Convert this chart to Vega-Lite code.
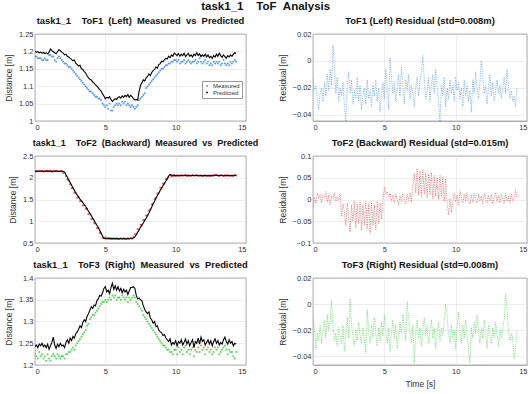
{
"$schema": "https://vega.github.io/schema/vega-lite/v6.json",
"background": "white",
"padding": {"left": 4, "top": 0, "right": 0, "bottom": 2},
"title": {"text": "task1_1\u00a0\u00a0\u00a0\u00a0ToF\u00a0\u00a0Analysis", "fontSize": 11.5, "fontWeight": "bold", "anchor": "middle", "frame": "bounds", "offset": 3, "color": "#111"},
"columns": 2,
"align": "each",
"spacing": {"row": 6, "column": 18},
"config": {
  "font": "Liberation Sans",
  "view": {"stroke": "#555", "strokeWidth": 0.7},
  "axis": {"labelFontSize": 7.5, "labelColor": "#333", "titleFontSize": 8.5, "titleFontWeight": "normal", "titleColor": "#333", "gridColor": "#e2e2e2", "gridWidth": 0.6, "domain": false, "ticks": false, "labelPadding": 2, "titlePadding": 5, "labelOverlap": false, "labelSeparation": -100},
  "axisY": {"labelOverlap": false, "labelSeparation": -100},
  "title": {"fontSize": 9.4, "fontWeight": "bold", "color": "#111", "offset": 0, "frame": "group"}
},
"datasets": {
"tof1": [
{"t":0.0,"m":1.185,"p":1.200,"r":-0.013},{"t":0.1,"m":1.185,"p":1.198,"r":-0.022},{"t":0.2,"m":1.18,"p":1.199,"r":-0.018},{"t":0.3,"m":1.18,"p":1.196,"r":-0.028},{"t":0.4,"m":1.18,"p":1.198,"r":-0.036},{"t":0.5,"m":1.175,"p":1.195,"r":-0.024},{"t":0.6,"m":1.175,"p":1.197,"r":-0.020},{"t":0.7,"m":1.18,"p":1.194,"r":-0.030},{"t":0.8,"m":1.175,"p":1.196,"r":-0.016},{"t":0.9,"m":1.175,"p":1.193,"r":-0.026},
{"t":1.0,"m":1.19,"p":1.198,"r":-0.010},{"t":1.1,"m":1.19,"p":1.207,"r":-0.022},{"t":1.2,"m":1.185,"p":1.202,"r":-0.006},{"t":1.3,"m":1.185,"p":1.199,"r":-0.018},{"t":1.4,"m":1.175,"p":1.196,"r":0.012},{"t":1.5,"m":1.17,"p":1.193,"r":-0.004},{"t":1.6,"m":1.18,"p":1.199,"r":-0.024},{"t":1.7,"m":1.185,"p":1.205,"r":-0.012},{"t":1.8,"m":1.18,"p":1.202,"r":-0.030},{"t":1.9,"m":1.175,"p":1.198,"r":-0.020},
{"t":2.0,"m":1.17,"p":1.195,"r":-0.026},{"t":2.1,"m":1.165,"p":1.190,"r":-0.016},{"t":2.2,"m":1.165,"p":1.192,"r":-0.034},{"t":2.3,"m":1.16,"p":1.186,"r":-0.045},{"t":2.4,"m":1.155,"p":1.184,"r":-0.020},{"t":2.5,"m":1.155,"p":1.180,"r":-0.008},{"t":2.6,"m":1.15,"p":1.177,"r":-0.024},{"t":2.7,"m":1.145,"p":1.173,"r":-0.014},{"t":2.8,"m":1.14,"p":1.175,"r":-0.032},{"t":2.9,"m":1.135,"p":1.166,"r":-0.022},
{"t":3.0,"m":1.13,"p":1.162,"r":-0.028},{"t":3.1,"m":1.125,"p":1.158,"r":-0.012},{"t":3.2,"m":1.12,"p":1.160,"r":-0.030},{"t":3.3,"m":1.115,"p":1.150,"r":-0.018},{"t":3.4,"m":1.11,"p":1.148,"r":-0.036},{"t":3.5,"m":1.105,"p":1.142,"r":-0.026},{"t":3.6,"m":1.10,"p":1.138,"r":-0.020},{"t":3.7,"m":1.095,"p":1.130,"r":-0.032},{"t":3.8,"m":1.09,"p":1.124,"r":-0.014},{"t":3.9,"m":1.085,"p":1.120,"r":-0.028},
{"t":4.0,"m":1.085,"p":1.118,"r":-0.022},{"t":4.1,"m":1.08,"p":1.112,"r":-0.034},{"t":4.2,"m":1.075,"p":1.109,"r":-0.018},{"t":4.3,"m":1.07,"p":1.104,"r":-0.026},{"t":4.4,"m":1.07,"p":1.100,"r":-0.014},{"t":4.5,"m":1.065,"p":1.095,"r":-0.030},{"t":4.6,"m":1.065,"p":1.090,"r":-0.020},{"t":4.7,"m":1.06,"p":1.086,"r":-0.038},{"t":4.8,"m":1.05,"p":1.078,"r":-0.024},{"t":4.9,"m":1.045,"p":1.072,"r":-0.016},
{"t":5.0,"m":1.04,"p":1.064,"r":-0.028},{"t":5.1,"m":1.045,"p":1.068,"r":-0.006},{"t":5.2,"m":1.035,"p":1.066,"r":-0.020},{"t":5.3,"m":1.05,"p":1.070,"r":-0.036},{"t":5.4,"m":1.03,"p":1.062,"r":0.002},{"t":5.5,"m":1.03,"p":1.056,"r":-0.012},{"t":5.6,"m":1.04,"p":1.060,"r":-0.024},{"t":5.7,"m":1.045,"p":1.064,"r":-0.016},{"t":5.8,"m":1.05,"p":1.062,"r":-0.030},{"t":5.9,"m":1.045,"p":1.068,"r":-0.020},
{"t":6.0,"m":1.05,"p":1.070,"r":-0.010},{"t":6.1,"m":1.045,"p":1.066,"r":-0.026},{"t":6.2,"m":1.055,"p":1.072,"r":-0.004},{"t":6.3,"m":1.05,"p":1.068,"r":-0.018},{"t":6.4,"m":1.055,"p":1.074,"r":-0.032},{"t":6.5,"m":1.045,"p":1.070,"r":-0.014},{"t":6.6,"m":1.05,"p":1.076,"r":-0.022},{"t":6.7,"m":1.045,"p":1.068,"r":-0.010},{"t":6.8,"m":1.04,"p":1.074,"r":-0.028},{"t":6.9,"m":1.045,"p":1.070,"r":-0.018},
{"t":7.0,"m":1.04,"p":1.064,"r":-0.024},{"t":7.1,"m":1.035,"p":1.060,"r":-0.034},{"t":7.2,"m":1.04,"p":1.062,"r":-0.020},{"t":7.3,"m":1.045,"p":1.060,"r":-0.012},{"t":7.4,"m":1.06,"p":1.085,"r":-0.026},{"t":7.5,"m":1.065,"p":1.102,"r":-0.016},{"t":7.6,"m":1.07,"p":1.110,"r":-0.008},{"t":7.7,"m":1.075,"p":1.118,"r":0.004},{"t":7.8,"m":1.08,"p":1.115,"r":-0.014},{"t":7.9,"m":1.095,"p":1.124,"r":-0.028},
{"t":8.0,"m":1.10,"p":1.128,"r":-0.022},{"t":8.1,"m":1.105,"p":1.135,"r":-0.012},{"t":8.2,"m":1.11,"p":1.130,"r":-0.030},{"t":8.3,"m":1.115,"p":1.140,"r":-0.018},{"t":8.4,"m":1.12,"p":1.145,"r":-0.010},{"t":8.5,"m":1.125,"p":1.148,"r":-0.024},{"t":8.6,"m":1.13,"p":1.155,"r":-0.006},{"t":8.7,"m":1.135,"p":1.152,"r":-0.020},{"t":8.8,"m":1.14,"p":1.162,"r":-0.030},{"t":8.9,"m":1.145,"p":1.165,"r":-0.045},
{"t":9.0,"m":1.15,"p":1.172,"r":-0.018},{"t":9.1,"m":1.15,"p":1.170,"r":-0.026},{"t":9.2,"m":1.155,"p":1.176,"r":-0.012},{"t":9.3,"m":1.16,"p":1.180,"r":-0.034},{"t":9.4,"m":1.16,"p":1.178,"r":-0.020},{"t":9.5,"m":1.165,"p":1.186,"r":-0.028},{"t":9.6,"m":1.165,"p":1.182,"r":-0.014},{"t":9.7,"m":1.17,"p":1.190,"r":-0.024},{"t":9.8,"m":1.17,"p":1.186,"r":-0.018},{"t":9.9,"m":1.175,"p":1.195,"r":-0.030},
{"t":10.0,"m":1.175,"p":1.192,"r":-0.012},{"t":10.1,"m":1.17,"p":1.188,"r":-0.022},{"t":10.2,"m":1.175,"p":1.194,"r":-0.016},{"t":10.3,"m":1.165,"p":1.186,"r":-0.028},{"t":10.4,"m":1.17,"p":1.192,"r":-0.020},{"t":10.5,"m":1.17,"p":1.188,"r":-0.034},{"t":10.6,"m":1.175,"p":1.195,"r":-0.014},{"t":10.7,"m":1.165,"p":1.185,"r":-0.026},{"t":10.8,"m":1.17,"p":1.190,"r":-0.018},{"t":10.9,"m":1.175,"p":1.194,"r":-0.030},
{"t":11.0,"m":1.17,"p":1.186,"r":-0.022},{"t":11.1,"m":1.165,"p":1.190,"r":-0.038},{"t":11.2,"m":1.17,"p":1.184,"r":-0.014},{"t":11.3,"m":1.17,"p":1.192,"r":-0.024},{"t":11.4,"m":1.175,"p":1.188,"r":-0.008},{"t":11.5,"m":1.165,"p":1.196,"r":-0.020},{"t":11.6,"m":1.17,"p":1.188,"r":-0.028},{"t":11.7,"m":1.18,"p":1.193,"r":-0.016},{"t":11.8,"m":1.17,"p":1.185,"r":0.000},{"t":11.9,"m":1.165,"p":1.190,"r":-0.012},
{"t":12.0,"m":1.17,"p":1.186,"r":-0.024},{"t":12.1,"m":1.175,"p":1.192,"r":-0.018},{"t":12.2,"m":1.165,"p":1.184,"r":-0.032},{"t":12.3,"m":1.17,"p":1.190,"r":-0.020},{"t":12.4,"m":1.16,"p":1.182,"r":-0.010},{"t":12.5,"m":1.165,"p":1.186,"r":-0.026},{"t":12.6,"m":1.16,"p":1.180,"r":-0.016},{"t":12.7,"m":1.17,"p":1.188,"r":-0.030},{"t":12.8,"m":1.165,"p":1.184,"r":-0.022},{"t":12.9,"m":1.17,"p":1.192,"r":-0.014},
{"t":13.0,"m":1.165,"p":1.186,"r":-0.024},{"t":13.1,"m":1.17,"p":1.195,"r":-0.018},{"t":13.2,"m":1.16,"p":1.188,"r":-0.028},{"t":13.3,"m":1.165,"p":1.183,"r":-0.020},{"t":13.4,"m":1.175,"p":1.190,"r":-0.012},{"t":13.5,"m":1.165,"p":1.185,"r":-0.024},{"t":13.6,"m":1.16,"p":1.180,"r":-0.006},{"t":13.7,"m":1.165,"p":1.188,"r":-0.018},{"t":13.8,"m":1.16,"p":1.184,"r":-0.028},{"t":13.9,"m":1.17,"p":1.190,"r":-0.022},
{"t":14.0,"m":1.165,"p":1.186,"r":-0.030},{"t":14.1,"m":1.17,"p":1.192,"r":-0.026},{"t":14.2,"m":1.175,"p":1.196,"r":-0.034},{"t":14.3,"m":1.17,"p":1.194,"r":-0.020}
],
"tof2": [
{"t":0.0,"m":2.14,"p":2.150,"r":-0.020},{"t":0.1,"m":2.15,"p":2.152,"r":0.005},{"t":0.2,"m":2.15,"p":2.148,"r":-0.010},{"t":0.3,"m":2.16,"p":2.151,"r":0.015},{"t":0.4,"m":2.15,"p":2.149,"r":0.002},{"t":0.5,"m":2.16,"p":2.153,"r":0.012},{"t":0.6,"m":2.14,"p":2.150,"r":-0.008},{"t":0.7,"m":2.16,"p":2.148,"r":0.010},{"t":0.8,"m":2.15,"p":2.152,"r":0.004},{"t":0.9,"m":2.16,"p":2.155,"r":0.018},
{"t":1.0,"m":2.15,"p":2.150,"r":-0.006},{"t":1.1,"m":2.16,"p":2.153,"r":0.010},{"t":1.2,"m":2.14,"p":2.147,"r":-0.012},{"t":1.3,"m":2.16,"p":2.151,"r":0.008},{"t":1.4,"m":2.15,"p":2.149,"r":0.002},{"t":1.5,"m":2.16,"p":2.152,"r":0.016},{"t":1.6,"m":2.15,"p":2.150,"r":-0.004},{"t":1.7,"m":2.15,"p":2.148,"r":0.006},{"t":1.8,"m":2.15,"p":2.151,"r":-0.002},{"t":1.9,"m":2.16,"p":2.150,"r":0.014},
{"t":2.0,"m":2.11,"p":2.145,"r":-0.040},{"t":2.1,"m":2.12,"p":2.130,"r":-0.010},{"t":2.2,"m":2.04,"p":2.070,"r":-0.030},{"t":2.3,"m":1.96,"p":2.010,"r":-0.060},{"t":2.4,"m":1.94,"p":1.950,"r":-0.008},{"t":2.5,"m":1.85,"p":1.890,"r":-0.045},{"t":2.6,"m":1.76,"p":1.830,"r":-0.075},{"t":2.7,"m":1.76,"p":1.770,"r":-0.012},{"t":2.8,"m":1.66,"p":1.710,"r":-0.050},{"t":2.9,"m":1.65,"p":1.650,"r":-0.004},
{"t":3.0,"m":1.54,"p":1.600,"r":-0.065},{"t":3.1,"m":1.55,"p":1.560,"r":-0.010},{"t":3.2,"m":1.46,"p":1.510,"r":-0.055},{"t":3.3,"m":1.46,"p":1.470,"r":-0.006},{"t":3.4,"m":1.36,"p":1.430,"r":-0.070},{"t":3.5,"m":1.37,"p":1.380,"r":-0.012},{"t":3.6,"m":1.28,"p":1.340,"r":-0.060},{"t":3.7,"m":1.29,"p":1.290,"r":-0.004},{"t":3.8,"m":1.16,"p":1.230,"r":-0.068},{"t":3.9,"m":1.17,"p":1.180,"r":-0.010},
{"t":4.0,"m":1.05,"p":1.130,"r":-0.078},{"t":4.1,"m":1.06,"p":1.070,"r":-0.006},{"t":4.2,"m":0.96,"p":1.020,"r":-0.060},{"t":4.3,"m":0.95,"p":0.960,"r":-0.012},{"t":4.4,"m":0.84,"p":0.910,"r":-0.070},{"t":4.5,"m":0.85,"p":0.850,"r":-0.004},{"t":4.6,"m":0.73,"p":0.790,"r":-0.056},{"t":4.7,"m":0.72,"p":0.730,"r":-0.008},{"t":4.8,"m":0.62,"p":0.660,"r":-0.045},{"t":4.9,"m":0.61,"p":0.610,"r":0.000},
{"t":5.0,"m":0.63,"p":0.600,"r":0.028},{"t":5.1,"m":0.61,"p":0.598,"r":0.012},{"t":5.2,"m":0.62,"p":0.602,"r":0.018},{"t":5.3,"m":0.61,"p":0.600,"r":0.006},{"t":5.4,"m":0.61,"p":0.596,"r":0.014},{"t":5.5,"m":0.60,"p":0.600,"r":-0.004},{"t":5.6,"m":0.61,"p":0.603,"r":0.010},{"t":5.7,"m":0.59,"p":0.598,"r":-0.008},{"t":5.8,"m":0.61,"p":0.600,"r":0.012},{"t":5.9,"m":0.60,"p":0.595,"r":0.002},
{"t":6.0,"m":0.59,"p":0.598,"r":-0.012},{"t":6.1,"m":0.61,"p":0.601,"r":0.008},{"t":6.2,"m":0.59,"p":0.597,"r":-0.004},{"t":6.3,"m":0.61,"p":0.600,"r":0.014},{"t":6.4,"m":0.60,"p":0.596,"r":0.000},{"t":6.5,"m":0.59,"p":0.599,"r":-0.010},{"t":6.6,"m":0.61,"p":0.602,"r":0.012},{"t":6.7,"m":0.60,"p":0.598,"r":-0.002},{"t":6.8,"m":0.62,"p":0.603,"r":0.016},{"t":6.9,"m":0.60,"p":0.605,"r":-0.006},
{"t":7.0,"m":0.64,"p":0.615,"r":0.028},{"t":7.1,"m":0.70,"p":0.640,"r":0.060},{"t":7.2,"m":0.70,"p":0.690,"r":0.015},{"t":7.3,"m":0.82,"p":0.750,"r":0.072},{"t":7.4,"m":0.81,"p":0.800,"r":0.010},{"t":7.5,"m":0.92,"p":0.860,"r":0.065},{"t":7.6,"m":0.92,"p":0.910,"r":0.005},{"t":7.7,"m":1.03,"p":0.960,"r":0.068},{"t":7.8,"m":1.03,"p":1.020,"r":0.012},{"t":7.9,"m":1.13,"p":1.070,"r":0.060},
{"t":8.0,"m":1.13,"p":1.130,"r":0.004},{"t":8.1,"m":1.25,"p":1.190,"r":0.058},{"t":8.2,"m":1.27,"p":1.260,"r":0.010},{"t":8.3,"m":1.39,"p":1.330,"r":0.062},{"t":8.4,"m":1.40,"p":1.400,"r":0.002},{"t":8.5,"m":1.51,"p":1.460,"r":0.055},{"t":8.6,"m":1.54,"p":1.530,"r":0.008},{"t":8.7,"m":1.64,"p":1.590,"r":0.050},{"t":8.8,"m":1.65,"p":1.650,"r":0.000},{"t":8.9,"m":1.77,"p":1.710,"r":0.056},
{"t":9.0,"m":1.77,"p":1.760,"r":0.006},{"t":9.1,"m":1.87,"p":1.820,"r":0.052},{"t":9.2,"m":1.87,"p":1.870,"r":-0.004},{"t":9.3,"m":1.97,"p":1.920,"r":0.048},{"t":9.4,"m":1.97,"p":1.980,"r":-0.010},{"t":9.5,"m":2.01,"p":2.040,"r":-0.035},{"t":9.6,"m":2.07,"p":2.070,"r":0.002},{"t":9.7,"m":2.03,"p":2.060,"r":-0.030},{"t":9.8,"m":2.04,"p":2.050,"r":-0.008},{"t":9.9,"m":2.07,"p":2.055,"r":0.014},
{"t":10.0,"m":2.04,"p":2.048,"r":-0.006},{"t":10.1,"m":2.06,"p":2.052,"r":0.010},{"t":10.2,"m":2.05,"p":2.045,"r":-0.012},{"t":10.3,"m":2.04,"p":2.050,"r":0.020},{"t":10.4,"m":2.06,"p":2.054,"r":0.002},{"t":10.5,"m":2.05,"p":2.047,"r":-0.008},{"t":10.6,"m":2.05,"p":2.051,"r":0.012},{"t":10.7,"m":2.07,"p":2.055,"r":-0.004},{"t":10.8,"m":2.04,"p":2.049,"r":0.016},{"t":10.9,"m":2.06,"p":2.052,"r":0.000},
{"t":11.0,"m":2.05,"p":2.046,"r":-0.010},{"t":11.1,"m":2.04,"p":2.050,"r":0.010},{"t":11.2,"m":2.06,"p":2.054,"r":-0.006},{"t":11.3,"m":2.05,"p":2.048,"r":0.014},{"t":11.4,"m":2.05,"p":2.052,"r":0.002},{"t":11.5,"m":2.06,"p":2.058,"r":-0.008},{"t":11.6,"m":2.04,"p":2.050,"r":0.012},{"t":11.7,"m":2.05,"p":2.046,"r":-0.004},{"t":11.8,"m":2.06,"p":2.050,"r":0.008},{"t":11.9,"m":2.04,"p":2.044,"r":-0.010},
{"t":12.0,"m":2.05,"p":2.048,"r":0.014},{"t":12.1,"m":2.06,"p":2.052,"r":0.000},{"t":12.2,"m":2.04,"p":2.046,"r":-0.008},{"t":12.3,"m":2.05,"p":2.050,"r":0.010},{"t":12.4,"m":2.05,"p":2.044,"r":-0.004},{"t":12.5,"m":2.04,"p":2.048,"r":0.012},{"t":12.6,"m":2.06,"p":2.052,"r":-0.010},{"t":12.7,"m":2.05,"p":2.046,"r":0.006},{"t":12.8,"m":2.07,"p":2.056,"r":0.016},{"t":12.9,"m":2.06,"p":2.060,"r":-0.006},
{"t":13.0,"m":2.05,"p":2.052,"r":0.010},{"t":13.1,"m":2.04,"p":2.048,"r":-0.008},{"t":13.2,"m":2.06,"p":2.054,"r":0.012},{"t":13.3,"m":2.05,"p":2.050,"r":0.000},{"t":13.4,"m":2.04,"p":2.046,"r":-0.010},{"t":13.5,"m":2.06,"p":2.052,"r":0.014},{"t":13.6,"m":2.05,"p":2.048,"r":-0.004},{"t":13.7,"m":2.06,"p":2.054,"r":0.008},{"t":13.8,"m":2.04,"p":2.050,"r":-0.008},{"t":13.9,"m":2.05,"p":2.046,"r":0.012},
{"t":14.0,"m":2.05,"p":2.052,"r":-0.004},{"t":14.1,"m":2.04,"p":2.048,"r":0.006},{"t":14.2,"m":2.07,"p":2.056,"r":0.022},{"t":14.3,"m":2.05,"p":2.052,"r":0.004}
],
"tof3": [
{"t":0.0,"m":1.225,"p":1.242,"r":-0.010},{"t":0.1,"m":1.22,"p":1.246,"r":-0.018},{"t":0.2,"m":1.215,"p":1.240,"r":-0.034},{"t":0.3,"m":1.23,"p":1.248,"r":-0.022},{"t":0.4,"m":1.22,"p":1.244,"r":-0.028},{"t":0.5,"m":1.225,"p":1.250,"r":-0.016},{"t":0.6,"m":1.215,"p":1.242,"r":-0.030},{"t":0.7,"m":1.22,"p":1.246,"r":-0.020},{"t":0.8,"m":1.21,"p":1.240,"r":-0.012},{"t":0.9,"m":1.225,"p":1.248,"r":-0.026},
{"t":1.0,"m":1.215,"p":1.236,"r":-0.008},{"t":1.1,"m":1.21,"p":1.244,"r":-0.020},{"t":1.2,"m":1.22,"p":1.252,"r":-0.014},{"t":1.3,"m":1.225,"p":1.264,"r":0.003},{"t":1.4,"m":1.22,"p":1.246,"r":-0.018},{"t":1.5,"m":1.215,"p":1.238,"r":-0.028},{"t":1.6,"m":1.225,"p":1.248,"r":-0.022},{"t":1.7,"m":1.22,"p":1.242,"r":-0.032},{"t":1.8,"m":1.215,"p":1.250,"r":-0.018},{"t":1.9,"m":1.22,"p":1.244,"r":-0.024},
{"t":2.0,"m":1.22,"p":1.246,"r":-0.030},{"t":2.1,"m":1.215,"p":1.240,"r":-0.016},{"t":2.2,"m":1.225,"p":1.252,"r":-0.036},{"t":2.3,"m":1.225,"p":1.258,"r":-0.022},{"t":2.4,"m":1.23,"p":1.250,"r":-0.010},{"t":2.5,"m":1.23,"p":1.262,"r":-0.026},{"t":2.6,"m":1.235,"p":1.256,"r":0.004},{"t":2.7,"m":1.24,"p":1.266,"r":-0.016},{"t":2.8,"m":1.235,"p":1.262,"r":-0.024},{"t":2.9,"m":1.245,"p":1.272,"r":-0.032},
{"t":3.0,"m":1.25,"p":1.276,"r":-0.020},{"t":3.1,"m":1.255,"p":1.282,"r":-0.028},{"t":3.2,"m":1.26,"p":1.290,"r":-0.014},{"t":3.3,"m":1.265,"p":1.286,"r":-0.024},{"t":3.4,"m":1.27,"p":1.298,"r":-0.030},{"t":3.5,"m":1.275,"p":1.304,"r":-0.018},{"t":3.6,"m":1.28,"p":1.300,"r":-0.026},{"t":3.7,"m":1.29,"p":1.312,"r":-0.038},{"t":3.8,"m":1.295,"p":1.318,"r":-0.004},{"t":3.9,"m":1.305,"p":1.326,"r":-0.020},
{"t":4.0,"m":1.31,"p":1.334,"r":-0.030},{"t":4.1,"m":1.315,"p":1.330,"r":-0.016},{"t":4.2,"m":1.315,"p":1.338,"r":-0.026},{"t":4.3,"m":1.32,"p":1.336,"r":-0.010},{"t":4.4,"m":1.325,"p":1.348,"r":-0.022},{"t":4.5,"m":1.33,"p":1.352,"r":-0.032},{"t":4.6,"m":1.335,"p":1.360,"r":-0.018},{"t":4.7,"m":1.34,"p":1.358,"r":-0.028},{"t":4.8,"m":1.345,"p":1.366,"r":-0.014},{"t":4.9,"m":1.345,"p":1.376,"r":-0.024},
{"t":5.0,"m":1.35,"p":1.380,"r":-0.008},{"t":5.1,"m":1.345,"p":1.368,"r":-0.020},{"t":5.2,"m":1.35,"p":1.372,"r":-0.030},{"t":5.3,"m":1.355,"p":1.364,"r":-0.018},{"t":5.4,"m":1.35,"p":1.378,"r":-0.036},{"t":5.5,"m":1.36,"p":1.388,"r":-0.022},{"t":5.6,"m":1.355,"p":1.374,"r":-0.012},{"t":5.7,"m":1.36,"p":1.382,"r":-0.026},{"t":5.8,"m":1.35,"p":1.372,"r":-0.016},{"t":5.9,"m":1.355,"p":1.380,"r":-0.034},
{"t":6.0,"m":1.355,"p":1.370,"r":-0.024},{"t":6.1,"m":1.35,"p":1.376,"r":-0.014},{"t":6.2,"m":1.36,"p":1.366,"r":-0.022},{"t":6.3,"m":1.355,"p":1.374,"r":-0.008},{"t":6.4,"m":1.35,"p":1.368,"r":-0.018},{"t":6.5,"m":1.355,"p":1.372,"r":-0.028},{"t":6.6,"m":1.345,"p":1.362,"r":0.002},{"t":6.7,"m":1.355,"p":1.370,"r":-0.010},{"t":6.8,"m":1.35,"p":1.378,"r":-0.020},{"t":6.9,"m":1.355,"p":1.378,"r":-0.030},
{"t":7.0,"m":1.36,"p":1.380,"r":-0.016},{"t":7.1,"m":1.355,"p":1.376,"r":-0.045},{"t":7.2,"m":1.345,"p":1.360,"r":-0.022},{"t":7.3,"m":1.34,"p":1.352,"r":-0.012},{"t":7.4,"m":1.335,"p":1.354,"r":-0.026},{"t":7.5,"m":1.33,"p":1.350,"r":-0.018},{"t":7.6,"m":1.325,"p":1.348,"r":-0.032},{"t":7.7,"m":1.315,"p":1.336,"r":-0.020},{"t":7.8,"m":1.31,"p":1.328,"r":-0.010},{"t":7.9,"m":1.305,"p":1.322,"r":-0.024},
{"t":8.0,"m":1.30,"p":1.318,"r":-0.016},{"t":8.1,"m":1.295,"p":1.322,"r":-0.030},{"t":8.2,"m":1.29,"p":1.308,"r":-0.020},{"t":8.3,"m":1.285,"p":1.304,"r":-0.012},{"t":8.4,"m":1.28,"p":1.296,"r":-0.026},{"t":8.5,"m":1.275,"p":1.300,"r":-0.018},{"t":8.6,"m":1.27,"p":1.288,"r":-0.034},{"t":8.7,"m":1.265,"p":1.290,"r":-0.022},{"t":8.8,"m":1.26,"p":1.280,"r":-0.014},{"t":8.9,"m":1.255,"p":1.276,"r":-0.028},
{"t":9.0,"m":1.25,"p":1.274,"r":-0.018},{"t":9.1,"m":1.245,"p":1.268,"r":-0.024},{"t":9.2,"m":1.245,"p":1.270,"r":-0.012},{"t":9.3,"m":1.24,"p":1.262,"r":0.000},{"t":9.4,"m":1.235,"p":1.258,"r":-0.010},{"t":9.5,"m":1.235,"p":1.254,"r":-0.022},{"t":9.6,"m":1.23,"p":1.260,"r":-0.030},{"t":9.7,"m":1.23,"p":1.246,"r":-0.016},{"t":9.8,"m":1.225,"p":1.252,"r":-0.026},{"t":9.9,"m":1.235,"p":1.248,"r":-0.020},
{"t":10.0,"m":1.235,"p":1.256,"r":-0.034},{"t":10.1,"m":1.225,"p":1.244,"r":-0.018},{"t":10.2,"m":1.24,"p":1.254,"r":-0.006},{"t":10.3,"m":1.23,"p":1.250,"r":-0.022},{"t":10.4,"m":1.235,"p":1.258,"r":-0.030},{"t":10.5,"m":1.225,"p":1.246,"r":-0.016},{"t":10.6,"m":1.24,"p":1.252,"r":-0.026},{"t":10.7,"m":1.245,"p":1.260,"r":-0.012},{"t":10.8,"m":1.23,"p":1.248,"r":-0.024},{"t":10.9,"m":1.235,"p":1.256,"r":-0.032},
{"t":11.0,"m":1.225,"p":1.244,"r":-0.045},{"t":11.1,"m":1.235,"p":1.252,"r":-0.018},{"t":11.2,"m":1.24,"p":1.258,"r":-0.026},{"t":11.3,"m":1.22,"p":1.240,"r":-0.014},{"t":11.4,"m":1.235,"p":1.254,"r":-0.022},{"t":11.5,"m":1.23,"p":1.250,"r":-0.008},{"t":11.6,"m":1.24,"p":1.262,"r":-0.020},{"t":11.7,"m":1.23,"p":1.248,"r":-0.030},{"t":11.8,"m":1.245,"p":1.264,"r":-0.018},{"t":11.9,"m":1.235,"p":1.254,"r":-0.026},
{"t":12.0,"m":1.24,"p":1.258,"r":-0.012},{"t":12.1,"m":1.225,"p":1.246,"r":-0.022},{"t":12.2,"m":1.235,"p":1.252,"r":-0.034},{"t":12.3,"m":1.24,"p":1.258,"r":-0.016},{"t":12.4,"m":1.23,"p":1.248,"r":-0.024},{"t":12.5,"m":1.235,"p":1.256,"r":-0.030},{"t":12.6,"m":1.225,"p":1.244,"r":-0.018},{"t":12.7,"m":1.23,"p":1.254,"r":-0.026},{"t":12.8,"m":1.24,"p":1.260,"r":-0.014},{"t":12.9,"m":1.235,"p":1.250,"r":-0.022},
{"t":13.0,"m":1.24,"p":1.256,"r":-0.032},{"t":13.1,"m":1.225,"p":1.246,"r":-0.020},{"t":13.2,"m":1.23,"p":1.252,"r":-0.026},{"t":13.3,"m":1.235,"p":1.248,"r":-0.018},{"t":13.4,"m":1.24,"p":1.258,"r":-0.012},{"t":13.5,"m":1.245,"p":1.264,"r":0.008},{"t":13.6,"m":1.235,"p":1.254,"r":-0.004},{"t":13.7,"m":1.225,"p":1.248,"r":-0.020},{"t":13.8,"m":1.235,"p":1.258,"r":-0.028},{"t":13.9,"m":1.23,"p":1.250,"r":-0.022},
{"t":14.0,"m":1.23,"p":1.254,"r":-0.026},{"t":14.1,"m":1.22,"p":1.244,"r":-0.042},{"t":14.2,"m":1.215,"p":1.250,"r":-0.034},{"t":14.3,"m":1.23,"p":1.248,"r":-0.020}
]
},
"concat": [
{
 "width": 211, "height": 87,
 "title": {"text": "task1_1\u00a0\u00a0\u00a0\u00a0ToF1\u00a0\u00a0(Left)\u00a0\u00a0Measured\u00a0\u00a0vs\u00a0\u00a0Predicted"},
 "data": {"name": "tof1"},
 "encoding": {"x": {"field": "t", "type": "quantitative", "scale": {"domain": [0, 15], "nice": false}, "axis": {"values": [0, 5, 10, 15], "title": null, "labelOverlap": false}}},
 "layer": [
  {"mark": {"type": "point", "shape": "circle", "filled": true, "size": 4, "opacity": 0.85, "clip": true},
   "encoding": {"y": {"field": "m", "type": "quantitative", "scale": {"domain": [1, 1.25], "nice": false, "zero": false}, "axis": {"values": [1, 1.05, 1.1, 1.15, 1.2, 1.25], "title": "Distance [m]", "format": "~g", "labelOverlap": false, "labelSeparation": -100}},
    "color": {"datum": "Measured", "scale": {"domain": ["Measured", "Predicted"], "range": ["#3d8ee6", "#000000"]}, "legend": {"title": null, "orient": "none", "legendX": 167, "legendY": 47, "symbolType": "circle", "symbolSize": 4, "labelFontSize": 6, "labelColor": "#333", "strokeColor": "#999", "fillColor": "white", "padding": 2, "rowPadding": 0.5, "labelOffset": 3, "symbolStrokeWidth": 0}}}},
  {"mark": {"type": "line", "strokeWidth": 1.1, "clip": true},
   "encoding": {"y": {"field": "p", "type": "quantitative", "axis": {"values": [1, 1.05, 1.1, 1.15, 1.2, 1.25], "title": "Distance [m]", "format": "~g", "labelOverlap": false, "labelSeparation": -100}}, "color": {"datum": "Predicted"}}}
 ]
},
{
 "width": 214, "height": 87,
 "title": {"text": "ToF1 (Left) Residual (std=0.008m)"},
 "data": {"name": "tof1"},
 "encoding": {"x": {"field": "t", "type": "quantitative", "scale": {"domain": [0, 15], "nice": false}, "axis": {"values": [0, 5, 10, 15], "title": null, "labelOverlap": false}}},
 "layer": [
  {"mark": {"type": "line", "color": "#3d8ee6", "strokeWidth": 0.75, "strokeDash": [1, 1.3], "opacity": 0.9, "clip": true},
   "encoding": {"y": {"field": "r", "type": "quantitative", "scale": {"domain": [-0.0445, 0.02], "nice": false, "zero": false}, "axis": {"values": [-0.04, -0.02, 0, 0.02], "title": "Residual [m]", "format": "~g", "labelOverlap": false, "labelSeparation": -100}}}},
  {"data": {"values": [{}]}, "mark": {"type": "rule", "color": "#808080", "strokeDash": [5, 3], "strokeWidth": 0.8},
   "encoding": {"y": {"datum": 0, "axis": {"values": [-0.04, -0.02, 0, 0.02], "title": "Residual [m]", "format": "~g", "labelOverlap": false, "labelSeparation": -100}}}}
 ]
},
{
 "width": 211, "height": 87,
 "title": {"text": "task1_1\u00a0\u00a0\u00a0\u00a0ToF2\u00a0\u00a0(Backward)\u00a0\u00a0Measured\u00a0\u00a0vs\u00a0\u00a0Predicted", "fontSize": 9, "dx": 5},
 "data": {"name": "tof2"},
 "encoding": {"x": {"field": "t", "type": "quantitative", "scale": {"domain": [0, 15], "nice": false}, "axis": {"values": [0, 5, 10, 15], "title": null, "labelOverlap": false}}},
 "layer": [
  {"mark": {"type": "point", "shape": "circle", "filled": true, "size": 4, "opacity": 0.85, "color": "#e0403f", "clip": true},
   "encoding": {"y": {"field": "m", "type": "quantitative", "scale": {"domain": [0.5, 2.5], "nice": false, "zero": false}, "axis": {"values": [0.5, 1, 1.5, 2, 2.5], "title": "Distance [m]", "format": "~g", "labelOverlap": false, "labelSeparation": -100}}}},
  {"mark": {"type": "line", "strokeWidth": 1.1, "color": "#000000", "clip": true},
   "encoding": {"y": {"field": "p", "type": "quantitative", "axis": {"values": [0.5, 1, 1.5, 2, 2.5], "title": "Distance [m]", "format": "~g", "labelOverlap": false, "labelSeparation": -100}}}}
 ]
},
{
 "width": 214, "height": 87,
 "title": {"text": "ToF2 (Backward) Residual (std=0.015m)"},
 "data": {"name": "tof2"},
 "encoding": {"x": {"field": "t", "type": "quantitative", "scale": {"domain": [0, 15], "nice": false}, "axis": {"values": [0, 5, 10, 15], "title": null, "labelOverlap": false}}},
 "layer": [
  {"mark": {"type": "line", "color": "#e0403f", "strokeWidth": 0.75, "strokeDash": [1, 1.3], "opacity": 0.9, "clip": true},
   "encoding": {"y": {"field": "r", "type": "quantitative", "scale": {"domain": [-0.1, 0.1], "nice": false, "zero": false}, "axis": {"values": [-0.1, -0.05, 0, 0.05, 0.1], "title": "Residual [m]", "format": "~g", "labelOverlap": false, "labelSeparation": -100}}}},
  {"data": {"values": [{}]}, "mark": {"type": "rule", "color": "#555555", "strokeDash": [5, 3], "strokeWidth": 0.8},
   "encoding": {"y": {"datum": 0, "axis": {"values": [-0.1, -0.05, 0, 0.05, 0.1], "title": "Residual [m]", "format": "~g", "labelOverlap": false, "labelSeparation": -100}}}}
 ]
},
{
 "width": 211, "height": 87,
 "title": {"text": "task1_1\u00a0\u00a0\u00a0\u00a0ToF3\u00a0\u00a0(Right)\u00a0\u00a0Measured\u00a0\u00a0vs\u00a0\u00a0Predicted"},
 "data": {"name": "tof3"},
 "encoding": {"x": {"field": "t", "type": "quantitative", "scale": {"domain": [0, 15], "nice": false}, "axis": {"values": [0, 5, 10, 15], "title": null, "labelOverlap": false}}},
 "layer": [
  {"mark": {"type": "point", "shape": "circle", "filled": true, "size": 4, "opacity": 0.85, "color": "#3ccf3c", "clip": true},
   "encoding": {"y": {"field": "m", "type": "quantitative", "scale": {"domain": [1.2, 1.4], "nice": false, "zero": false}, "axis": {"values": [1.2, 1.25, 1.3, 1.35, 1.4], "title": "Distance [m]", "format": "~g", "labelOverlap": false, "labelSeparation": -100}}}},
  {"mark": {"type": "line", "strokeWidth": 1.1, "color": "#000000", "clip": true},
   "encoding": {"y": {"field": "p", "type": "quantitative", "axis": {"values": [1.2, 1.25, 1.3, 1.35, 1.4], "title": "Distance [m]", "format": "~g", "labelOverlap": false, "labelSeparation": -100}}}}
 ]
},
{
 "width": 214, "height": 87,
 "title": {"text": "ToF3 (Right) Residual (std=0.008m)"},
 "data": {"name": "tof3"},
 "encoding": {"x": {"field": "t", "type": "quantitative", "scale": {"domain": [0, 15], "nice": false}, "axis": {"values": [0, 5, 10, 15], "title": "Time [s]", "labelOverlap": false}}},
 "layer": [
  {"mark": {"type": "line", "color": "#3ccf3c", "strokeWidth": 0.75, "strokeDash": [1, 1.3], "opacity": 0.9, "clip": true},
   "encoding": {"y": {"field": "r", "type": "quantitative", "scale": {"domain": [-0.0465, 0.02], "nice": false, "zero": false}, "axis": {"values": [-0.04, -0.02, 0, 0.02], "title": "Residual [m]", "format": "~g", "labelOverlap": false, "labelSeparation": -100}}}},
  {"data": {"values": [{}]}, "mark": {"type": "rule", "color": "#808080", "strokeDash": [5, 3], "strokeWidth": 0.8},
   "encoding": {"y": {"datum": 0, "axis": {"values": [-0.04, -0.02, 0, 0.02], "title": "Residual [m]", "format": "~g", "labelOverlap": false, "labelSeparation": -100}}}}
 ]
}
]
}
